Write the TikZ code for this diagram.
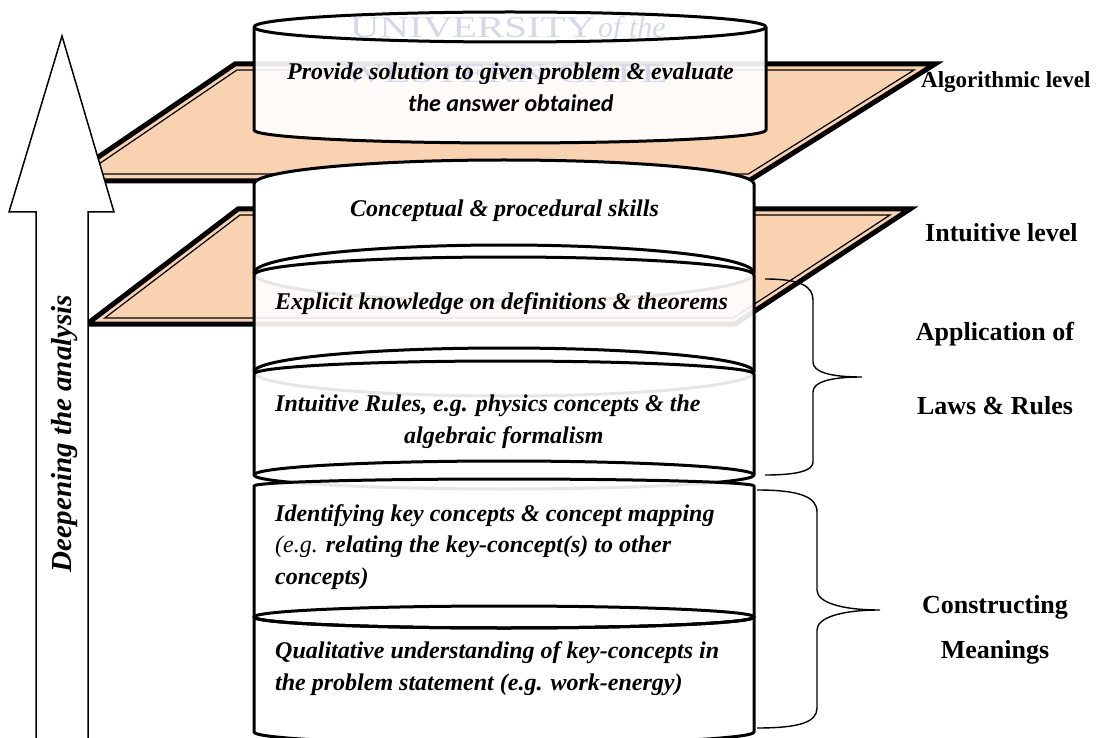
\documentclass[tikz,border=0pt]{standalone}
\usepackage{fontspec}
\usepackage{graphicx}
\setmainfont{Liberation Serif}
\newfontfamily\carlitofont{Carlito}
\definecolor{peach}{HTML}{F9D3B1}
\definecolor{wmark}{HTML}{D6D8EA}
\tikzset{
  planeout/.style={fill=peach, draw=black, line width=5pt, line join=miter, miter limit=10},
  planein/.style={draw=black, line width=1.2pt, line join=miter},
  canfill/.style={fill=white, fill opacity=0.9},
  canline/.style={draw=black, line width=3pt, line join=round},
  bodytext/.style={inner sep=0pt, font=\fontsize{24}{31}\selectfont\bfseries\itshape},
  sidetext/.style={inner sep=0pt, font=\fontsize{26}{30}\selectfont\bfseries},
  bracestyle/.style={draw=black, line width=1.4pt},
  bigarrow/.style={fill=white, draw=black, line width=1.5pt, line join=miter},
  wmtext/.style={inner sep=0pt, text=wmark}
}
\begin{document}
\begin{tikzpicture}[x=1pt,y=1pt]
\useasboundingbox (0,0) rectangle (1103,-738);
\fill[white] (0,0) rectangle (1103,-738);

% ---- planes ----
\draw[planeout] (235,-64) -- (935,-64) -- (748.6,-181) -- (63,-181) -- cycle;
\draw[planein] (236.9,-70) -- (914.1,-70) -- (748.4,-174) -- (84.3,-174) -- cycle;
\draw[planeout] (238,-209) -- (910,-209) -- (735,-324) -- (87,-324) -- cycle;
\draw[planein] (240,-215) -- (890,-215) -- (733.2,-318) -- (104.8,-318) -- cycle;

% ---- top cylinder ----
\path[canfill] (254,-27) -- (254,-130) arc[start angle=180,end angle=360,x radius=256pt,y radius=13pt] -- (766,-27) arc[start angle=0,end angle=180,x radius=256pt,y radius=15pt] -- cycle;
\node[wmtext, anchor=south west] (wmuni) at (350,-38) {\resizebox{245pt}{20pt}{UNIVERSITY}};
\node[wmtext, anchor=base west, font=\fontsize{30}{30}\selectfont\itshape] (wmof) at (598,-38) {of the};
\node[wmtext, anchor=south west] (wmwest) at (343,-83) {\resizebox{324pt}{18pt}{WESTERN CAPE}};
\draw[canline] (254,-27) -- (254,-130) arc[start angle=180,end angle=360,x radius=256pt,y radius=13pt] -- (766,-27);
\draw[canline] (510,-27) ellipse[x radius=256pt,y radius=15pt];

% ---- stacked cans ----
\draw[canline, fill=white] (254,-184) arc[start angle=180,end angle=0,x radius=250pt,y radius=24pt] -- (754,-273) arc[start angle=0,end angle=-180,x radius=250pt,y radius=28pt] -- cycle;
\draw[canline] (254,-273) arc[start angle=180,end angle=0,x radius=250pt,y radius=28pt];

\draw[canline, canfill] (254,-275) arc[start angle=180,end angle=0,x radius=250pt,y radius=18pt] -- (754,-372) arc[start angle=0,end angle=-180,x radius=250pt,y radius=24pt] -- cycle;
\draw[canline] (254,-372) arc[start angle=180,end angle=0,x radius=250pt,y radius=24pt];

\draw[canline, canfill] (254,-374) arc[start angle=180,end angle=0,x radius=250pt,y radius=13pt] -- (754,-475) arc[start angle=0,end angle=-180,x radius=250pt,y radius=14pt] -- cycle;
\draw[canline] (254,-475) arc[start angle=180,end angle=0,x radius=250pt,y radius=14pt];

\draw[canline, canfill] (254,-486) arc[start angle=180,end angle=0,x radius=250pt,y radius=7pt] -- (754,-617) arc[start angle=0,end angle=-180,x radius=250pt,y radius=11pt] -- cycle;

\draw[canline, canfill] (254,-617) arc[start angle=180,end angle=360,x radius=250pt,y radius=11pt] -- (754,-732) arc[start angle=0,end angle=-180,x radius=250pt,y radius=12pt] -- cycle;
\draw[canline] (504,-617) ellipse[x radius=250pt,y radius=11pt];

% ---- big arrow ----
\draw[bigarrow] (62,-36) -- (114,-212) -- (88,-212) -- (88,-760) -- (36,-760) -- (36,-212) -- (9,-212) -- cycle;
\node[inner sep=0pt, font=\fontsize{29}{30}\selectfont\bfseries\itshape, rotate=90, anchor=base] (deep) at (71.5,-433.5) {Deepening the analysis};

% ---- braces ----
\coordinate (b1top) at (765,-279);
\coordinate (b1tip) at (862,-377);
\coordinate (b1bot) at (765,-475);
\coordinate (b2top) at (757,-490);
\coordinate (b2tip) at (880,-610);
\coordinate (b2bot) at (757,-728);
\draw[bracestyle] (b1top) .. controls (800,-279) and (813,-286) .. (813,-300) -- (813,-362) .. controls (813,-372) and (830,-377) .. (b1tip) .. controls (830,-377) and (813,-382) .. (813,-392) -- (813,-462) .. controls (813,-470) and (800,-475) .. (b1bot);
\draw[bracestyle] (b2top) .. controls (800,-490) and (817,-497) .. (817,-512) -- (817,-590) .. controls (817,-602) and (840,-610) .. (b2tip) .. controls (840,-610) and (817,-618) .. (817,-630) -- (817,-708) .. controls (817,-722) and (800,-728) .. (b2bot);

% ---- texts in cylinders ----
\node[bodytext, anchor=base west] (tprov) at (287,-80) {Provide solution to given problem \& evaluate};
\node[inner sep=0pt, anchor=base west, font=\carlitofont\fontsize{24}{31}\selectfont\bfseries\itshape] (tans) at (408,-111.7) {the answer obtained};
\node[bodytext, anchor=base west] (tconc) at (350,-216.7) {Conceptual \& procedural skills};
\node[bodytext, anchor=base west] (texpl) at (275,-309) {Explicit knowledge on definitions \& theorems};
\node[bodytext, anchor=base west] (tint1) at (275,-411.7) {Intuitive Rules, e.g. physics concepts \& the};
\node[bodytext, anchor=base west] (tint2) at (404,-443) {algebraic formalism};
\node[bodytext, anchor=base west] (tid1) at (275,-521.7) {Identifying key concepts \& concept mapping};
\node[bodytext, anchor=base west] (tid2) at (275,-552) {{\mdseries(e.g.} relating the key-concept(s) to other};
\node[bodytext, anchor=base west] (tid3) at (275,-584) {concepts)};
\node[bodytext, anchor=base west] (tq1) at (275,-658) {Qualitative understanding of key-concepts in};
\node[bodytext, anchor=base west] (tq2) at (275,-690) {the problem statement (e.g. work-energy)};

% ---- side labels ----
\node[inner sep=0pt, anchor=base west, font=\fontsize{23}{28}\selectfont\bfseries] (lalg) at (921,-88) {Algorithmic level};
\node[sidetext, anchor=base west] (lint) at (925,-241) {Intuitive level};
\node[sidetext, anchor=base] (lapp) at (995,-340.5) {Application of};
\node[sidetext, anchor=base] (llaw) at (995,-414) {Laws \& Rules};
\node[sidetext, anchor=base] (lcon) at (995,-613) {Constructing};
\node[sidetext, anchor=base] (lmea) at (995,-658) {Meanings};
\end{tikzpicture}
\end{document}
